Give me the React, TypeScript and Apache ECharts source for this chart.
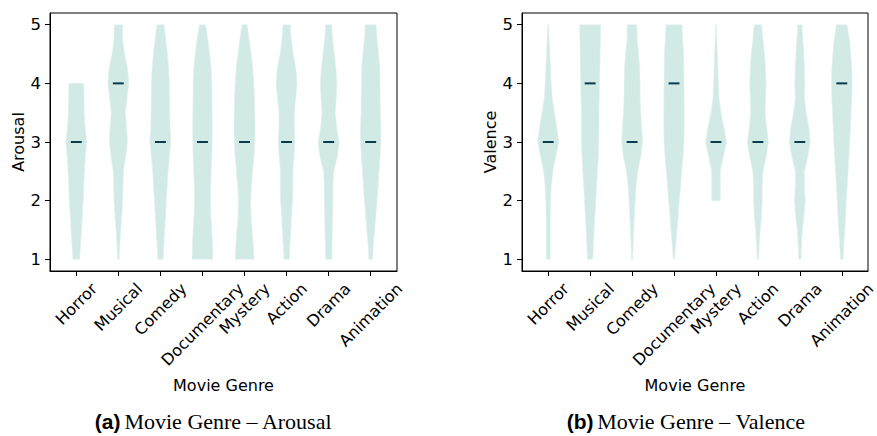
import React, { useEffect, useRef } from "react";
import * as echarts from "echarts";

const GENRES = ["Horror", "Musical", "Comedy", "Documentary", "Mystery", "Action", "Drama", "Animation"];
const X_TICKS = [1, 2, 3, 4, 5, 6, 7, 8];
const Y_TICKS = [1, 2, 3, 4, 5];
// rating levels at which the violin widths were read (bottom to top)
const LEVELS = [1, 1.25, 1.5, 1.75, 2, 2.25, 2.5, 2.75, 3, 3.25, 3.5, 3.75, 4, 4.25, 4.5, 4.75, 5];

// relative violin widths (1 = widest point of that violin), null = outside data range
const AROUSAL_WIDTHS: (number | null)[][] = [
  [0.32, 0.41, 0.5, 0.58, 0.66, 0.72, 0.78, 0.86, 1.0, 0.84, 0.75, 0.73, 0.71, null, null, null, null],
  [0.08, 0.14, 0.22, 0.33, 0.41, 0.44, 0.48, 0.7, 0.86, 0.8, 0.67, 0.83, 1.0, 0.88, 0.6, 0.41, 0.4],
  [0.25, 0.33, 0.41, 0.49, 0.57, 0.65, 0.73, 0.86, 1.0, 0.92, 0.89, 0.87, 0.86, 0.79, 0.67, 0.51, 0.35],
  [1.0, 0.95, 0.89, 0.8, 0.76, 0.78, 0.83, 0.89, 0.92, 0.93, 0.92, 0.9, 0.89, 0.83, 0.7, 0.51, 0.29],
  [0.9, 0.83, 0.72, 0.62, 0.58, 0.65, 0.77, 0.9, 0.98, 1.0, 0.98, 0.95, 0.89, 0.79, 0.63, 0.44, 0.25],
  [0.25, 0.32, 0.41, 0.48, 0.57, 0.6, 0.6, 0.7, 0.79, 0.73, 0.73, 0.87, 1.0, 0.89, 0.63, 0.44, 0.35],
  [0.3, 0.32, 0.35, 0.38, 0.41, 0.41, 0.48, 0.83, 1.0, 0.76, 0.63, 0.73, 0.79, 0.7, 0.54, 0.38, 0.29],
  [0.17, 0.25, 0.38, 0.49, 0.6, 0.7, 0.79, 0.89, 0.97, 0.97, 0.92, 0.9, 0.89, 0.86, 0.76, 0.6, 0.51],
];
const VALENCE_WIDTHS: (number | null)[][] = [
  [0.19, 0.19, 0.19, 0.2, 0.22, 0.29, 0.44, 0.73, 1.0, 0.83, 0.6, 0.38, 0.29, 0.22, 0.16, 0.1, 0.05],
  [0.25, 0.32, 0.38, 0.46, 0.54, 0.62, 0.7, 0.78, 0.83, 0.84, 0.84, 0.87, 0.9, 0.93, 0.95, 0.98, 1.0],
  [0.05, 0.1, 0.16, 0.22, 0.29, 0.38, 0.54, 0.83, 1.0, 0.92, 0.83, 0.76, 0.76, 0.73, 0.63, 0.48, 0.46],
  [0.06, 0.17, 0.29, 0.4, 0.51, 0.62, 0.73, 0.86, 0.95, 0.98, 0.98, 0.97, 0.95, 0.94, 0.92, 0.83, 0.76],
  [null, null, null, null, 0.41, 0.41, 0.41, 0.7, 1.0, 0.76, 0.48, 0.29, 0.22, 0.19, 0.13, 0.08, 0.03],
  [0.06, 0.13, 0.22, 0.35, 0.41, 0.41, 0.48, 0.79, 1.0, 0.83, 0.7, 0.73, 0.79, 0.73, 0.63, 0.48, 0.35],
  [0.1, 0.16, 0.25, 0.41, 0.51, 0.44, 0.44, 0.76, 1.0, 0.86, 0.6, 0.44, 0.48, 0.44, 0.38, 0.29, 0.21],
  [0.13, 0.19, 0.29, 0.37, 0.44, 0.52, 0.6, 0.68, 0.76, 0.83, 0.89, 0.95, 0.98, 0.95, 0.86, 0.73, 0.51],
];
const AROUSAL_MEDIANS = [3, 4, 3, 3, 3, 3, 3, 3];
const VALENCE_MEDIANS = [3, 4, 3, 4, 3, 3, 3, 4];

const VIOLIN_FILL = "#d1eae6";
const MEDIAN_COLOR = "#0b3c4d";
const FONT = "DejaVu Sans";

function makeRender(widths: (number | null)[][]) {
  return (params: any, api: any) => {
    const i = params.dataIndex;
    const pos = api.value(0);
    const med = api.value(1);
    const row = widths[i];
    const right: number[][] = [];
    const left: number[][] = [];
    LEVELS.forEach((lv, k) => {
      const f = row[k];
      if (f == null) return;
      const hw = f * 0.25;
      right.push(api.coord([pos + hw, lv]));
      left.push(api.coord([pos - hw, lv]));
    });
    const pts = right.concat(left.reverse());
    const a = api.coord([pos - 0.13, med]);
    const b = api.coord([pos + 0.13, med]);
    return {
      type: "group",
      children: [
        {
          type: "polygon",
          shape: { points: pts },
          style: { fill: VIOLIN_FILL, stroke: "#e3f2ef", lineWidth: 0.6 },
        },
        {
          type: "line",
          shape: { x1: a[0], y1: a[1], x2: b[0], y2: b[1] },
          style: { stroke: MEDIAN_COLOR, lineWidth: 2 },
        },
      ],
    };
  };
}

function xAxisCfg(gridIndex: number) {
  return {
    gridIndex,
    type: "value",
    min: 0.375,
    max: 8.625,
    splitLine: { show: false },
    axisLine: { show: true, onZero: false, lineStyle: { color: "#000", width: 1 } },
    axisTick: { show: true, customValues: X_TICKS, length: 5, lineStyle: { color: "#000", width: 1 } },
    axisLabel: { show: false, customValues: X_TICKS },
    name: "Movie Genre",
    nameLocation: "middle",
    nameGap: 106,
    nameTextStyle: { fontSize: 16, fontFamily: FONT, color: "#000" },
  };
}

function yAxisCfg(gridIndex: number, name: string) {
  return {
    gridIndex,
    type: "value",
    min: 0.8,
    max: 5.2,
    splitLine: { show: false },
    axisLine: { show: true, onZero: false, lineStyle: { color: "#000", width: 1 } },
    axisTick: { show: true, customValues: Y_TICKS, length: 5, lineStyle: { color: "#000", width: 1 } },
    axisLabel: { show: true, customValues: Y_TICKS, fontSize: 16.5, fontFamily: FONT, color: "#000", margin: 9 },
    name,
    nameLocation: "middle",
    nameGap: 22,
    nameTextStyle: { fontSize: 16, fontFamily: FONT, color: "#000" },
  };
}

export default function App() {
  const ref = useRef<HTMLDivElement>(null);
  useEffect(() => {
    if (!ref.current) return;
    const chart = echarts.init(ref.current, undefined, { renderer: "svg" });
    chart.setOption({
      animation: false,
      backgroundColor: "#fff",
      grid: [
        { left: 50, top: 13, width: 347, height: 258, show: true, borderColor: "#000", borderWidth: 1, backgroundColor: "transparent" },
        { left: 522, top: 13, width: 346, height: 258, show: true, borderColor: "#000", borderWidth: 1, backgroundColor: "transparent" },
      ],
      xAxis: [xAxisCfg(0), xAxisCfg(1)],
      yAxis: [yAxisCfg(0, "Arousal"), yAxisCfg(1, "Valence")],
      series: [
        {
          type: "custom",
          xAxisIndex: 0,
          yAxisIndex: 0,
          renderItem: makeRender(AROUSAL_WIDTHS),
          data: GENRES.map((_, i) => [X_TICKS[i], AROUSAL_MEDIANS[i]]),
          encode: { x: 0, y: 1 },
          silent: true,
        },
        {
          type: "custom",
          xAxisIndex: 1,
          yAxisIndex: 1,
          renderItem: makeRender(VALENCE_WIDTHS),
          data: GENRES.map((_, i) => [X_TICKS[i], VALENCE_MEDIANS[i]]),
          encode: { x: 0, y: 1 },
          silent: true,
        },
      ],
    });

    // rotated tick labels, bounding box centred under each tick (matplotlib style)
    const canvas = document.createElement("canvas");
    const ctx = canvas.getContext("2d")!;
    ctx.font = `16px "${FONT}"`;
    const elements: any[] = [];
    [0, 1].forEach((g) => {
      const axisY = chart.convertToPixel({ yAxisIndex: g } as any, 0.8) as unknown as number;
      GENRES.forEach((name, i) => {
        const px = chart.convertToPixel({ xAxisIndex: g } as any, X_TICKS[i]) as unknown as number;
        const w = ctx.measureText(name).width;
        const H = (w + 16) * Math.SQRT1_2;
        elements.push({
          type: "text",
          x: px,
          y: axisY + 9.3 + H / 2,
          rotation: Math.PI / 4,
          silent: true,
          style: {
            text: name,
            fontSize: 16,
            fontFamily: FONT,
            fill: "#000",
            align: "center",
            verticalAlign: "middle",
          },
        });
      });
    });
    const captions = [
      { x: 213.5, label: "(a)", text: "Movie Genre – Arousal" },
      { x: 686, label: "(b)", text: "Movie Genre – Valence" },
    ];
    captions.forEach((c) => {
      elements.push({
        type: "text",
        x: c.x,
        y: 421,
        silent: true,
        style: {
          text: `{b|${c.label}} {s|${c.text}}`,
          align: "center",
          verticalAlign: "middle",
          rich: {
            b: { fontFamily: "Liberation Sans", fontWeight: "bold", fontSize: 21, fill: "#000" },
            s: { fontFamily: "Liberation Serif", fontSize: 22, fill: "#000" },
          },
        },
      });
    });
    chart.setOption({ graphic: { elements } });
    return () => chart.dispose();
  }, []);
  return (
    <div
      ref={ref}
      style={{ position: "absolute", left: 0, top: 0, width: 877, height: 436, background: "#fff" }}
    />
  );
}
